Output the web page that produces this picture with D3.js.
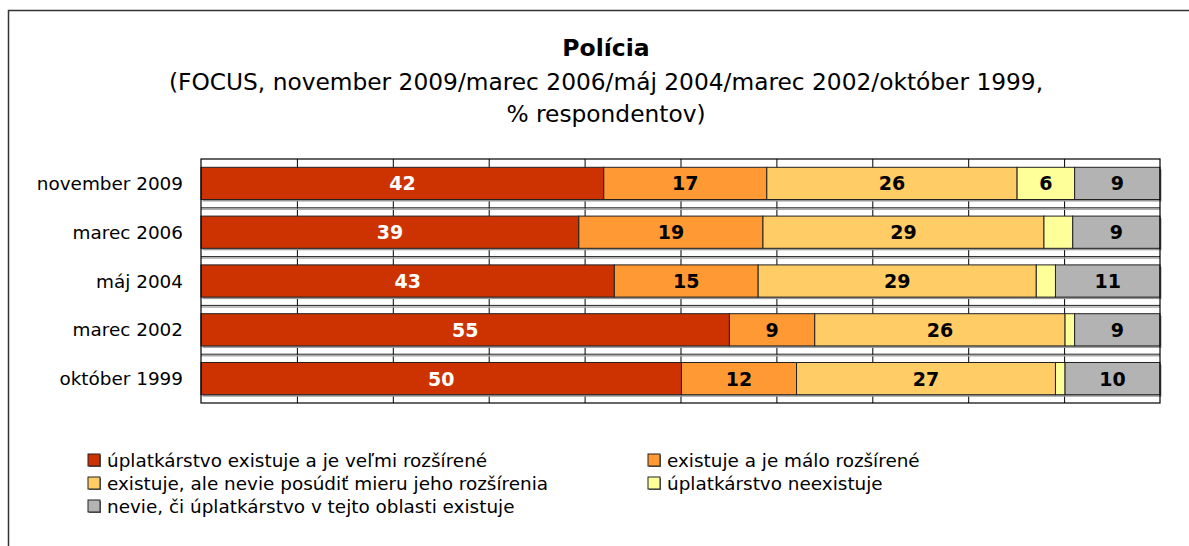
<!DOCTYPE html>
<html>
<head>
<meta charset="utf-8">
<script src="https://cdn.jsdelivr.net/npm/d3@7"></script>
<style>
  html, body { margin: 0; padding: 0; background: #fff; }
  svg { display: block; }
  text { font-family: "DejaVu Sans", Verdana, sans-serif; }
</style>
</head>
<body>
<svg id="chart" width="1189" height="546"></svg>
<script>
// ---- data ----
const categories = ["november 2009", "marec 2006", "máj 2004", "marec 2002", "október 1999"];
const seriesNames = [
  "úplatkárstvo existuje a je veľmi rozšírené",
  "existuje a je málo rozšírené",
  "existuje, ale nevie posúdiť mieru jeho rozšírenia",
  "úplatkárstvo neexistuje",
  "nevie, či úplatkárstvo v tejto oblasti existuje"
];
const velmiRozsirene   = [42.0, 39.4, 43.1, 55.1, 50.1];
const maloRozsirene    = [17.0, 19.2, 15.0, 8.9, 12.0];
const nevieMieru       = [26.1, 29.3, 29.0, 26.1, 27.0];
const neexistuje       = [6.0, 3.0, 2.0, 1.0, 1.0];
const nevieCiExistuje  = [8.9, 9.1, 10.9, 8.9, 9.9];
const gridTicks = [10, 20, 30, 40, 50, 60, 70, 80, 90];
const titleText = "Polícia";
const subtitleLines = [
  "(FOCUS, november 2009/marec 2006/máj 2004/marec 2002/október 1999,",
  "% respondentov)"
];

const seriesValues = [velmiRozsirene, maloRozsirene, nevieMieru, neexistuje, nevieCiExistuje];
const colors = ["#CC3300", "#FF9933", "#FFCC66", "#FFFF99", "#B3B3B3"];
const labelColors = ["#ffffff", "#000000", "#000000", "#000000", "#000000"];

const svg = d3.select("#chart");

// outer chart border
svg.append("rect")
  .attr("x", 8.5).attr("y", 10.5)
  .attr("width", 1200).attr("height", 600)
  .attr("fill", "#fff").attr("stroke", "#333").attr("stroke-width", 1.5);

// title
svg.append("text")
  .attr("x", 606).attr("y", 56)
  .attr("text-anchor", "middle")
  .attr("font-weight", "bold").attr("font-size", 23.5)
  .text(titleText);
svg.selectAll("text.sub").data(subtitleLines).enter().append("text")
  .attr("class", "sub")
  .attr("x", 606).attr("y", (d, i) => 90 + i * 32)
  .attr("text-anchor", "middle")
  .attr("font-size", 23.3)
  .text(d => d);

// plot
const x0 = 201, x1 = 1160, y0 = 159, y1 = 403;
const x = d3.scaleLinear().domain([0, 100]).range([x0, x1]);
const y = d3.scaleBand().domain(categories).range([y0, y1]).paddingInner(0.34).paddingOuter(0.17);

const plot = svg.append("g");
plot.append("rect").attr("x", x0).attr("y", y0).attr("width", x1 - x0).attr("height", y1 - y0)
  .attr("fill", "#fff");

// vertical gridlines
const gridAxis = d3.axisBottom(x).tickValues(gridTicks).tickSize(-(y1 - y0)).tickFormat("");
const g = plot.append("g").attr("transform", `translate(0,${y1})`).call(gridAxis);
g.select(".domain").remove();
g.selectAll(".tick line").attr("stroke", "#000").attr("stroke-width", 1);

// band boundary lines (between categories)
const step = y.step();
const boundaries = categories.slice(1).map(c => y(c) - (step - y.bandwidth()) / 2);
plot.selectAll("line.sep").data(boundaries).enter().append("line")
  .attr("class", "sep")
  .attr("x1", x0).attr("x2", x1).attr("y1", d => d + 1.5).attr("y2", d => d + 1.5)
  .attr("stroke", "#aaa").attr("stroke-width", 1.5);
plot.selectAll("line.sep2").data(boundaries).enter().append("line")
  .attr("class", "sep2")
  .attr("x1", x0).attr("x2", x1).attr("y1", d => d).attr("y2", d => d)
  .attr("stroke", "#222").attr("stroke-width", 1);

// stacked data
const rows = categories.map((c, i) => {
  let acc = 0;
  return seriesValues.map((s, k) => {
    const start = acc; acc += s[i];
    return { cat: c, k, v: s[i], start, end: acc };
  });
});

// bar shadows
plot.selectAll("rect.shadow").data(categories).enter().append("rect")
  .attr("class", "shadow")
  .attr("x", x(0) + 1.5).attr("y", d => y(d) + 2)
  .attr("width", x(100) - x(0)).attr("height", y.bandwidth())
  .attr("fill", "#999");

const segs = rows.flat();
plot.selectAll("rect.seg").data(segs).enter().append("rect")
  .attr("class", "seg")
  .attr("x", d => x(d.start)).attr("y", d => y(d.cat))
  .attr("width", d => x(d.end) - x(d.start)).attr("height", y.bandwidth())
  .attr("fill", d => colors[d.k]).attr("stroke", "#222").attr("stroke-width", 1);

plot.selectAll("text.val").data(segs.filter(d => d.v >= 4)).enter().append("text")
  .attr("class", "val")
  .attr("x", d => (x(d.start) + x(d.end)) / 2)
  .attr("y", d => y(d.cat) + y.bandwidth() / 2 + 7)
  .attr("text-anchor", "middle")
  .attr("font-weight", "bold").attr("font-size", 19)
  .attr("fill", d => labelColors[d.k])
  .text(d => Math.round(d.v));

// plot border
plot.append("rect").attr("x", x0).attr("y", y0).attr("width", x1 - x0).attr("height", y1 - y0)
  .attr("fill", "none").attr("stroke", "#000").attr("stroke-width", 1.2);

// category labels
svg.selectAll("text.cat").data(categories).enter().append("text")
  .attr("class", "cat")
  .attr("x", 183).attr("y", d => y(d) + y.bandwidth() / 2 + 6.5)
  .attr("text-anchor", "end").attr("font-size", 18.4)
  .text(d => d);

// legend
const legendPos = [
  { x: 88, y: 460 }, { x: 648, y: 460 },
  { x: 88, y: 483 }, { x: 648, y: 483 },
  { x: 88, y: 506 }
];
const lg = svg.selectAll("g.leg").data(seriesNames).enter().append("g")
  .attr("class", "leg")
  .attr("transform", (d, i) => `translate(${legendPos[i].x},${legendPos[i].y})`);
lg.append("rect").attr("x", 1).attr("y", -5).attr("width", 12).attr("height", 12).attr("fill", "#666");
lg.append("rect").attr("x", 0).attr("y", -6).attr("width", 12).attr("height", 12)
  .attr("fill", (d, i) => colors[i]).attr("stroke", "#222").attr("stroke-width", 1);
lg.append("text").attr("x", 19).attr("y", 6.5).attr("font-size", 18.4)
  .text(d => d);
</script>
</body>
</html>
